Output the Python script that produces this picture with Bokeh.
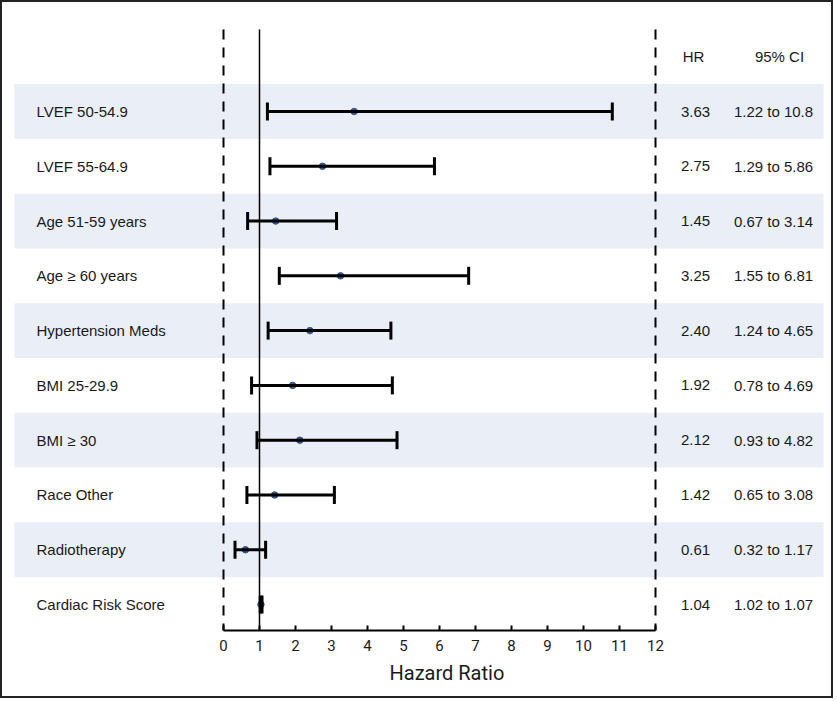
from bokeh.plotting import figure
from bokeh.models import Range1d, ColumnDataSource, Whisker, TeeHead, FixedTicker, Title
from bokeh.core.properties import value
from bokeh.embed import file_html
from bokeh.resources import INLINE

# ---------------- data ----------------
labels = ["LVEF 50-54.9", "LVEF 55-64.9", "Age 51-59 years", "Age \u2265 60 years",
          "Hypertension Meds", "BMI 25-29.9", "BMI \u2265 30", "Race Other",
          "Radiotherapy", "Cardiac Risk Score"]
hr = [3.63, 2.75, 1.45, 3.25, 2.40, 1.92, 2.12, 1.42, 0.61, 1.04]
lower = [1.22, 1.29, 0.67, 1.55, 1.24, 0.78, 0.93, 0.65, 0.32, 1.02]
upper = [10.8, 5.86, 3.14, 6.81, 4.65, 4.69, 4.82, 3.08, 1.17, 1.07]
hr_text = ["3.63", "2.75", "1.45", "3.25", "2.40", "1.92", "2.12", "1.42", "0.61", "1.04"]
ci_text = ["1.22 to 10.8", "1.29 to 5.86", "0.67 to 3.14", "1.55 to 6.81", "1.24 to 4.65",
           "0.78 to 4.69", "0.93 to 4.82", "0.65 to 3.08", "0.32 to 1.17", "1.02 to 1.07"]
x_ticks = list(range(0, 13))
x_min, x_max = 0, 12
ref_line = 1
x_title = "Hazard Ratio"

# ---------------- layout constants (pixels, page coords) ----------------
B = 2                 # css border width (content-box: added outside the canvas)
IW, IH = 837 - 2 * B, 702 - 2 * B
PX = 36.0             # px per HR unit
LEFT_PX = 223.0 - B   # frame px of HR = 0
FRAME_H = 630.0 - B
ROW_PX = 54.78
ROW0_PX = 111.0 - B   # frame px of first row centre

x_start = -LEFT_PX / PX
x_end = x_start + IW / PX
y_top = -ROW0_PX / ROW_PX
y_bot = y_top + FRAME_H / ROW_PX

def xd(page_px):  # page px -> data x
    return x_start + (page_px - B) / PX

def yd(page_px):  # page px -> data y
    return y_top + (page_px - B) / ROW_PX

n = len(labels)
ys = list(range(n))

p = figure(width=IW, height=IH, x_range=Range1d(x_start, x_end), y_range=Range1d(y_bot, y_top),
           output_backend="svg", toolbar_location=None, y_axis_location=None,
           min_border_left=0, min_border_right=0, min_border_top=0,
           min_border_bottom=int(IH - FRAME_H))
p.xgrid.visible = False
p.ygrid.visible = False
p.outline_line_color = None
p.background_fill_color = "white"
p.border_fill_color = "white"
p.styles = {"border": "%dpx solid #222" % B}

# bands
band_rows = [i for i in ys if i % 2 == 0]
p.quad(left=xd(14), right=xd(823), top=[i - 0.5 for i in band_rows],
       bottom=[i + 0.5 for i in band_rows], fill_color="#E9EEF7", line_color=None)

# vertical reference lines
line_top = yd(29)
p.segment(x0=[x_min, x_max], x1=[x_min, x_max], y0=[line_top] * 2, y1=[y_bot] * 2,
          line_color="black", line_width=2, line_dash="10 8")
p.segment(x0=[ref_line], x1=[ref_line], y0=[line_top], y1=[y_bot],
          line_color="black", line_width=1.5)

src = ColumnDataSource(dict(y=ys, hr=hr, lower=lower, upper=upper))
wk = Whisker(source=src, base="y", lower="lower", upper="upper", dimension="width",
             line_color="black", line_width=3, level="overlay",
             upper_head=TeeHead(size=18, line_width=3, line_color="black"),
             lower_head=TeeHead(size=18, line_width=3, line_color="black"))
p.add_layout(wk)
p.scatter(x="hr", y="y", source=src, size=6.5, color="#34568A", level="overlay")

font = value("Liberation Sans")
p.text(x=[xd(36)] * n, y=ys, text=labels, text_font=font, text_font_size="15px",
       text_baseline="middle", text_align="left", text_color="#1a1a1a")
p.text(x=[xd(695)] * n, y=ys, text=hr_text, text_font=font, text_font_size="15px",
       text_baseline="middle", text_align="center", text_color="#1a1a1a")
p.text(x=[xd(773)] * n, y=ys, text=ci_text, text_font=font, text_font_size="15px",
       text_baseline="middle", text_align="center", text_color="#1a1a1a")
p.text(x=[xd(693), xd(779)], y=[-1, -1], text=["HR", "95% CI"], text_font=font,
       text_font_size="15px", text_baseline="middle", text_align="center", text_color="#1a1a1a")

ax = p.xaxis[0]
ax.ticker = FixedTicker(ticks=x_ticks)
ax.bounds = (x_min, x_max)
ax.axis_line_width = 2
ax.major_tick_in = 5
ax.major_tick_out = 0
ax.major_tick_line_width = 2
ax.minor_tick_line_color = None
ax.major_label_standoff = 9
ax.major_label_text_font = "Roboto"
ax.major_label_text_font_size = "15px"
ax.major_label_text_color = "#1a1a1a"

ttl = Title(text=x_title, align="left", offset=389 - B, standoff=10,
            text_font="Roboto", text_font_size="20px", text_font_style="normal",
            text_color="#1a1a1a")
p.add_layout(ttl, "below")

open("out.html", "w").write(file_html(p, INLINE))
